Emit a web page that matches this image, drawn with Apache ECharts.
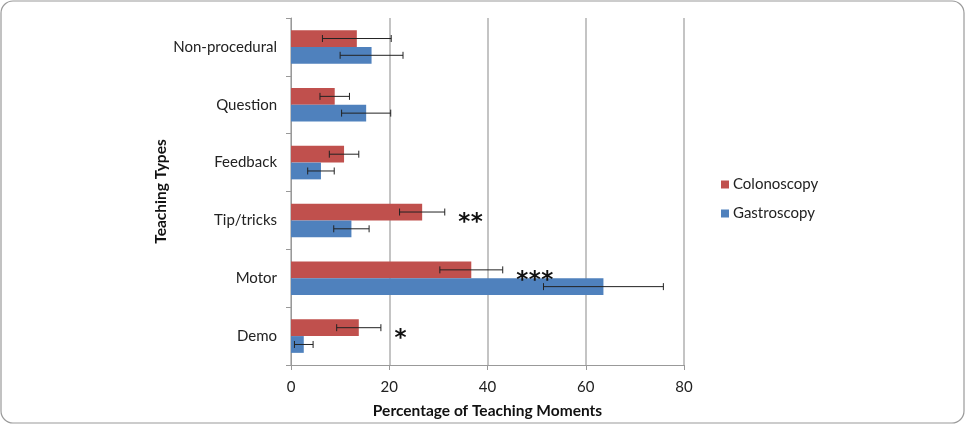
<!DOCTYPE html>
<html><head><meta charset="utf-8">
<script src="https://cdn.jsdelivr.net/npm/echarts@6/dist/echarts.min.js"></script>
<style>html,body{margin:0;padding:0;background:#fff}#c{width:965px;height:424px}</style>
</head><body><div id="c"></div>
<script>
var categories = ['Demo', 'Motor', 'Tip/tricks', 'Feedback', 'Question', 'Non-procedural'];
var colonoscopy = [13.8, 36.7, 26.7, 10.8, 8.9, 13.4];
var colonoscopyErr = [4.5, 6.4, 4.6, 3.0, 3.0, 7.0];
var gastroscopy = [2.6, 63.6, 12.3, 6.1, 15.3, 16.4];
var gastroscopyErr = [1.9, 12.2, 3.6, 2.7, 5.0, 6.4];
var significance = ['*', '***', '**', '', '', ''];
var xTicks = [0, 20, 40, 60, 80];

var FONT = 'Lato';
var RED = '#C0504D', BLUE = '#4F81BD';
var CAT_GAP = 0.42;

function errSeries(vals, errs, pos) {
  return {
    type: 'custom', silent: true, z: 5,
    data: vals.map(function (v, i) { return [i, v, errs[i]]; }),
    renderItem: function (params, api) {
      var ci = api.value(0), v = api.value(1), e = api.value(2);
      var band = api.size([0, 1])[1];
      var barH = band * (1 - CAT_GAP) / 2;
      var c = api.coord([v, ci]);
      var y = c[1] + pos * barH / 2;
      var x1 = api.coord([v - e, ci])[0], x2 = api.coord([v + e, ci])[0];
      var st = { stroke: '#222', lineWidth: 1 };
      return { type: 'group', children: [
        { type: 'line', shape: { x1: x1, y1: y, x2: x2, y2: y }, style: st },
        { type: 'line', shape: { x1: x1, y1: y - 3.5, x2: x1, y2: y + 3.5 }, style: st },
        { type: 'line', shape: { x1: x2, y1: y - 3.5, x2: x2, y2: y + 3.5 }, style: st }
      ]};
    }
  };
}

var chart = echarts.init(document.getElementById('c'), null, { renderer: 'canvas' });
chart.setOption({
  animation: false,
  textStyle: { fontFamily: FONT },
  grid: { left: 291, right: 281, top: 18, bottom: 56 },
  legend: {
    data: ['Colonoscopy', 'Gastroscopy'], orient: 'vertical',
    left: 716, top: 172, itemWidth: 8, itemHeight: 8, itemGap: 14,
    icon: 'rect', textStyle: { fontFamily: FONT, fontSize: 15, color: '#222', padding: [0, 0, 0, -1] }
  },
  xAxis: {
    type: 'value', min: 0, max: 80, interval: 20,
    name: 'Percentage of Teaching Moments', nameLocation: 'middle', nameGap: 38,
    nameTextStyle: { fontFamily: FONT, fontSize: 15.5, fontWeight: 'bold', color: '#111' },
    axisLine: { show: true, lineStyle: { color: '#999', width: 1 } },
    axisTick: { show: true, length: 5, lineStyle: { color: '#999' } },
    axisLabel: { margin: 15, fontSize: 15, color: '#222', fontFamily: FONT,
      formatter: function (v) { return xTicks.indexOf(v) >= 0 ? String(v) : ''; } },
    splitLine: { show: true, lineStyle: { color: '#c4c4c4', width: 2 } }
  },
  yAxis: {
    type: 'category', data: categories,
    name: 'Teaching Types', nameLocation: 'middle', nameGap: 121, nameRotate: 90,
    nameTextStyle: { fontFamily: FONT, fontSize: 15.5, fontWeight: 'bold', color: '#111' },
    axisLine: { show: true, lineStyle: { color: '#999', width: 1 } },
    axisTick: { show: true, length: 5, lineStyle: { color: '#999' } },
    axisLabel: { margin: 14, fontSize: 15, color: '#222', fontFamily: FONT }
  },
  series: [
    { name: 'Colonoscopy', type: 'bar', data: colonoscopy, itemStyle: { color: RED },
      barGap: '0%', barCategoryGap: (CAT_GAP * 100) + '%' },
    { name: 'Gastroscopy', type: 'bar', data: gastroscopy, itemStyle: { color: BLUE },
      barGap: '0%', barCategoryGap: (CAT_GAP * 100) + '%' },
    errSeries(colonoscopy, colonoscopyErr, -1),
    errSeries(gastroscopy, gastroscopyErr, 1),
    {
      type: 'custom', silent: true, z: 6,
      data: colonoscopy.map(function (v, i) { return [i, v, colonoscopyErr[i]]; }),
      renderItem: function (params, api) {
        var ci = api.value(0), v = api.value(1), e = api.value(2);
        var s = significance[ci];
        if (!s) return null;
        var band = api.size([0, 1])[1];
        var barH = band * (1 - CAT_GAP) / 2;
        var c = api.coord([v + e, ci]);
        var kids = [];
        for (var k = 0; k < s.length; k++) {
          kids.push({ type: 'text', x: c[0] + 19.5 + k * 12.5, y: c[1] - barH / 2 + 11,
            style: { text: '*', fontSize: 23, fontWeight: 'bold', fontFamily: 'DejaVu Sans', fill: '#111',
              textAlign: 'center', textVerticalAlign: 'middle' } });
        }
        return { type: 'group', children: kids };
      }
    }
  ],
  graphic: [{ type: 'rect', shape: { x: 1, y: 1, width: 963, height: 422, r: 12 },
    style: { fill: 'none', stroke: '#9a9a9a', lineWidth: 1.2 }, silent: true }]
});
</script></body></html>
